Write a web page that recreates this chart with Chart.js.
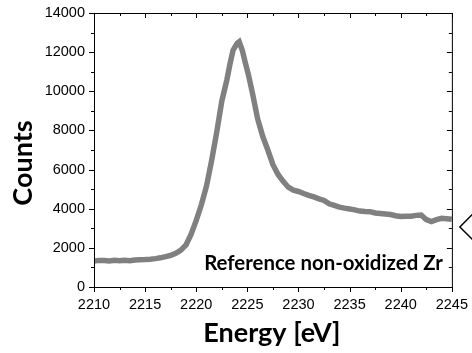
<!DOCTYPE html>
<html>
<head>
<meta charset="utf-8">
<script src="https://cdn.jsdelivr.net/npm/chart.js@4.4.0/dist/chart.umd.min.js"></script>
<style>
  html, body { margin: 0; padding: 0; background: #fff; }
  #wrap { width: 472px; height: 353px; position: relative; }
</style>
</head>
<body>
<div id="wrap"><canvas id="xanesChart"></canvas></div>
<script>
// ---- data ----
const energy = [
  2210, 2210.5, 2211, 2211.5, 2212, 2212.5, 2213, 2213.5, 2214, 2214.5,
  2215, 2215.5, 2216, 2216.5, 2217, 2217.5, 2218, 2218.5, 2219, 2219.5,
  2220, 2220.5, 2221, 2221.5, 2222, 2222.5, 2223, 2223.3, 2223.6, 2224,
  2224.2, 2224.5, 2224.8, 2225.1, 2225.5, 2226, 2226.5, 2227, 2227.5, 2228,
  2228.5, 2229, 2229.5, 2230, 2230.5, 2231, 2231.5, 2232, 2232.5, 2233,
  2233.5, 2234, 2234.5, 2235, 2235.5, 2236, 2236.5, 2237, 2237.5, 2238,
  2238.5, 2239, 2239.5, 2240, 2240.5, 2241, 2241.5, 2242, 2242.5, 2243,
  2243.5, 2244, 2244.5, 2245
];
const counts = [
  1330, 1360, 1350, 1330, 1360, 1340, 1370, 1340, 1380, 1390,
  1400, 1420, 1450, 1490, 1550, 1620, 1720, 1880, 2150, 2700,
  3400, 4200, 5150, 6450, 7900, 9500, 10600, 11400, 12100, 12450,
  12530, 12100, 11450, 10850, 9900, 8600, 7700, 7000, 6250, 5750,
  5400, 5100, 4950, 4880, 4780, 4680, 4600, 4500, 4420, 4250,
  4170, 4080, 4030, 3990, 3940, 3880, 3860, 3850, 3780, 3760,
  3730, 3700, 3640, 3600, 3610, 3620, 3660, 3680, 3440, 3340,
  3440, 3510, 3490, 3460
];
const xTicks = [2210, 2215, 2220, 2225, 2230, 2235, 2240, 2245];
const xMinor = [2212.5, 2217.5, 2222.5, 2227.5, 2232.5, 2237.5, 2242.5];
const yTicks = [0, 2000, 4000, 6000, 8000, 10000, 12000, 14000];
const yMinor = [1000, 3000, 5000, 7000, 9000, 11000, 13000];
const xTitle = "Energy [eV]";
const yTitle = "Counts";
const sampleLabel = "Reference non-oxidized Zr";
const arrowValue = 3070;

// frame, tick marks, titles and annotation
const framePlugin = {
  id: "frame",
  afterDraw(chart) {
    const { ctx, chartArea: a, scales: { x, y } } = chart;
    ctx.save();
    ctx.strokeStyle = "#000";
    ctx.lineWidth = 1;
    ctx.strokeRect(a.left + 0.5, a.top + 0.5, a.right - a.left, a.bottom - a.top);

    ctx.beginPath();
    const tickX = (v, len) => {
      const px = Math.round(x.getPixelForValue(v)) + 0.5;
      ctx.moveTo(px, a.bottom); ctx.lineTo(px, a.bottom + len);   // bottom, outward
      ctx.moveTo(px, a.top); ctx.lineTo(px, a.top + len);         // top, inward
    };
    const tickY = (v, len) => {
      const py = Math.round(y.getPixelForValue(v)) + 0.5;
      ctx.moveTo(a.left, py); ctx.lineTo(a.left - len, py);       // left, outward
      ctx.moveTo(a.right, py); ctx.lineTo(a.right - len, py);     // right, inward
    };
    xTicks.forEach(v => tickX(v, 5));
    xMinor.forEach(v => tickX(v, 3));
    yTicks.forEach(v => tickY(v, 5));
    yMinor.forEach(v => tickY(v, 3));
    ctx.stroke();

    // cut-off arrow at the right edge
    const ay = y.getPixelForValue(arrowValue);
    ctx.beginPath();
    ctx.lineWidth = 1.5;
    ctx.moveTo(a.right + 22, ay - 14);
    ctx.lineTo(a.right + 8, ay);
    ctx.lineTo(a.right + 22, ay + 14);
    ctx.stroke();

    ctx.fillStyle = "#000";
    // sample label, fitted to the width seen in the reference
    ctx.font = "bold 20px Lato";
    const w = ctx.measureText(sampleLabel).width;
    const size = 20 * 239 / w;
    ctx.font = "bold " + size.toFixed(1) + "px Lato";
    ctx.textAlign = "right";
    ctx.textBaseline = "alphabetic";
    ctx.fillText(sampleLabel, a.right - 9, a.bottom - 17);

    // axis titles
    ctx.font = "bold 27px Lato";
    ctx.textAlign = "center";
    ctx.fillText(xTitle, (a.left + a.right) / 2 - 1, 342);
    ctx.translate(32, 163);
    ctx.rotate(-Math.PI / 2);
    ctx.fillText(yTitle, 0, 0);
    ctx.restore();
  }
};

const tickFont = { family: "Liberation Sans", size: 14.5 };

new Chart(document.getElementById("xanesChart"), {
  type: "line",
  data: {
    datasets: [{
      data: energy.map((e, i) => ({ x: e, y: counts[i] })),
      borderColor: "#808080",
      borderWidth: 5.5,
      pointRadius: 0,
      tension: 0,
      fill: false
    }]
  },
  options: {
    responsive: true,
    maintainAspectRatio: false,
    animation: false,
    devicePixelRatio: 1,
    layout: { padding: { top: 13, right: 20, left: 0, bottom: 0 } },
    plugins: { legend: { display: false }, tooltip: { enabled: false } },
    scales: {
      x: {
        type: "linear",
        min: 2210,
        max: 2245,
        afterBuildTicks: s => { s.ticks = xTicks.map(v => ({ value: v })); },
        afterFit: s => { s.height = 66; },
        ticks: { color: "#000", font: tickFont, padding: 4, maxRotation: 0, autoSkip: false, callback: v => String(v) },
        grid: { display: false, drawTicks: true, tickLength: 5 },
        border: { display: false }
      },
      y: {
        min: 0,
        max: 14000,
        afterBuildTicks: s => { s.ticks = yTicks.map(v => ({ value: v })); },
        afterFit: s => { s.width = 94; },
        ticks: { color: "#000", font: tickFont, padding: 4, callback: v => String(v) },
        grid: { display: false, drawTicks: true, tickLength: 5 },
        border: { display: false }
      }
    }
  },
  plugins: [framePlugin]
});
</script>
</body>
</html>
